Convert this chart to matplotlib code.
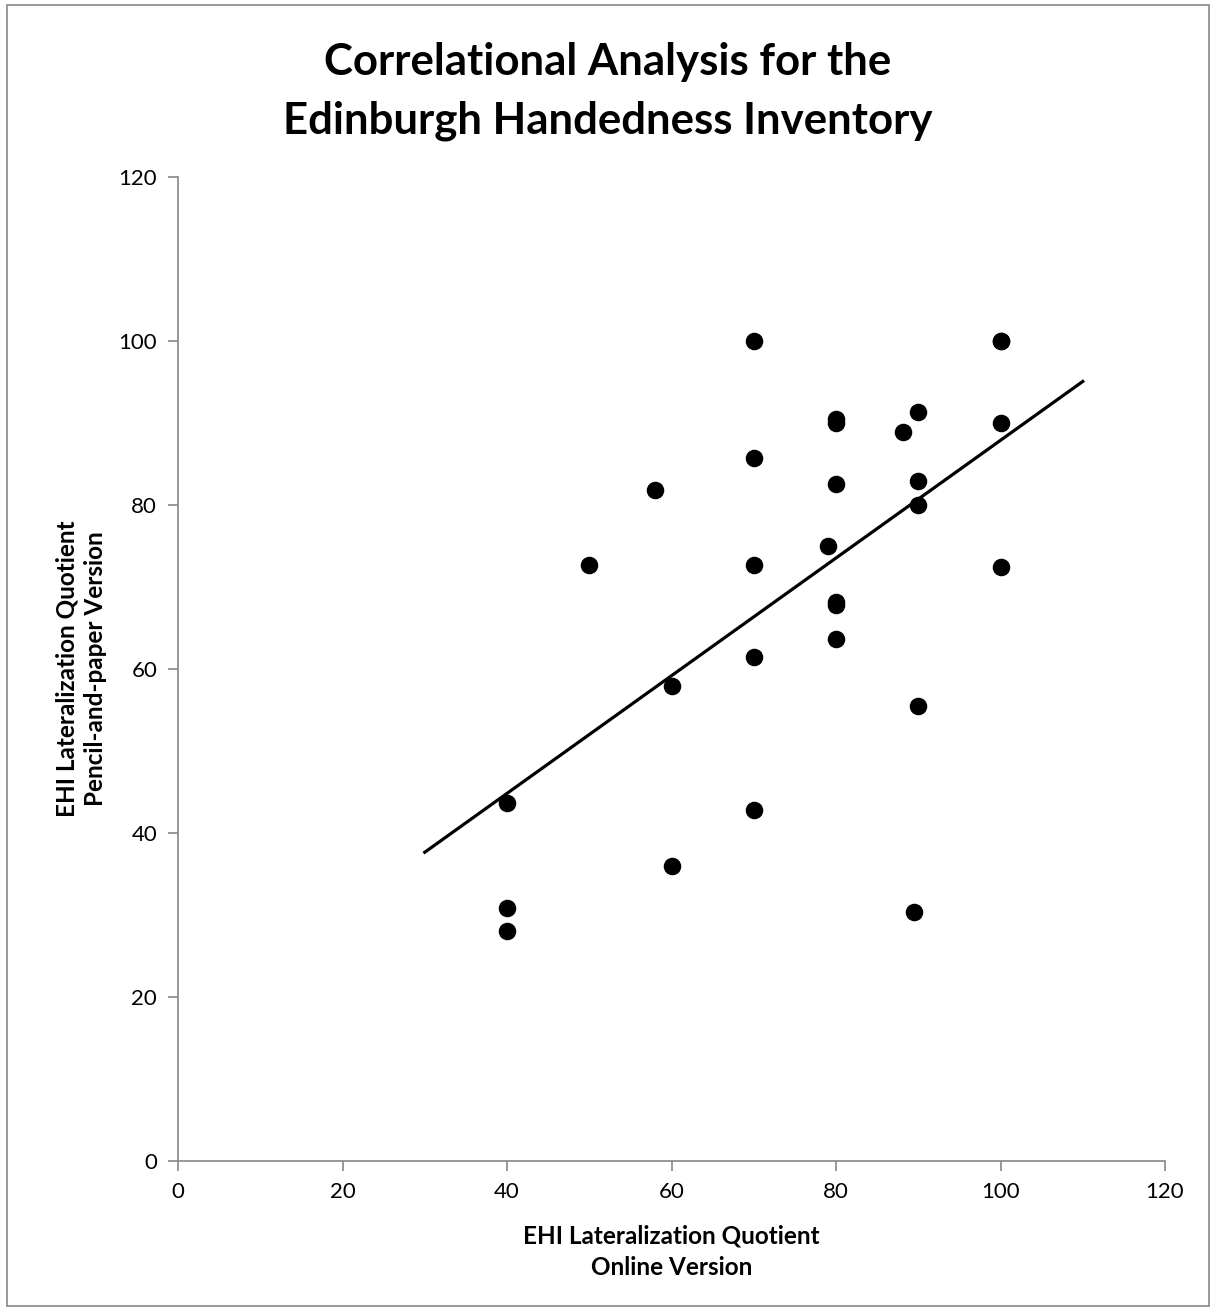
import numpy as np
import matplotlib.pyplot as plt

# Puntajes (algunos puntos se repiten y se superponen)
online = [40, 40, 40, 50, 58, 60, 60, 70, 70, 70, 70, 70, 79, 80, 80, 80, 80, 80, 80,
          88.2, 90, 90, 90, 90, 89.5, 100, 100, 100, 100]
papel = [43.6, 30.8, 28, 72.7, 81.8, 57.9, 36, 100, 85.7, 72.7, 61.5, 42.8, 75, 90.5, 90,
         82.6, 68.2, 67.8, 63.6, 88.9, 91.3, 82.9, 80, 55.5, 30.4, 100, 100, 90, 72.4]
ticks = [0, 20, 40, 60, 80, 100, 120]

plt.rcParams['font.family'] = ['Lato', 'DejaVu Sans']

fig = plt.figure(figsize=(12.16, 13.11), dpi=100)
ax = fig.add_axes([178 / 1216, 1 - 1161 / 1311, (1165 - 178) / 1216, (1161 - 177) / 1311])

# Marco exterior gris
fig.patches.append(plt.Rectangle((0.006, 0.004), 0.988, 0.992, transform=fig.transFigure,
                                 fill=False, edgecolor='#888888', linewidth=1.2))

ax.scatter(online, papel, s=135, color='black', zorder=3)

# Linea de tendencia (regresion lineal)
m, b = np.polyfit(online, papel, 1)
xs = np.array([30, 110])
ax.plot(xs, m * xs + b, color='black', linewidth=2.3)

ax.set_xlim(0, 120)
ax.set_ylim(0, 120)
ax.set_xticks(ticks)
ax.set_yticks(ticks)
ax.tick_params(labelsize=16, color='#888888', length=7, width=1.2, pad=8)
for s in ['top', 'right']:
    ax.spines[s].set_visible(False)
for s in ['left', 'bottom']:
    ax.spines[s].set_color('#888888')
    ax.spines[s].set_linewidth(1.2)

ax.set_xlabel("EHI Lateralization Quotient\nOnline Version", fontsize=17.5, fontweight='bold',
              labelpad=16, linespacing=1.45)
ax.set_ylabel("EHI Lateralization Quotient\nPencil-and-paper Version", fontsize=17.5,
              fontweight='bold', labelpad=8, linespacing=1.3)
fig.suptitle("Correlational Analysis for the\nEdinburgh Handedness Inventory", fontsize=31.5,
             fontweight='bold', y=0.968, linespacing=1.55)

fig.savefig("out.png", dpi=100)
